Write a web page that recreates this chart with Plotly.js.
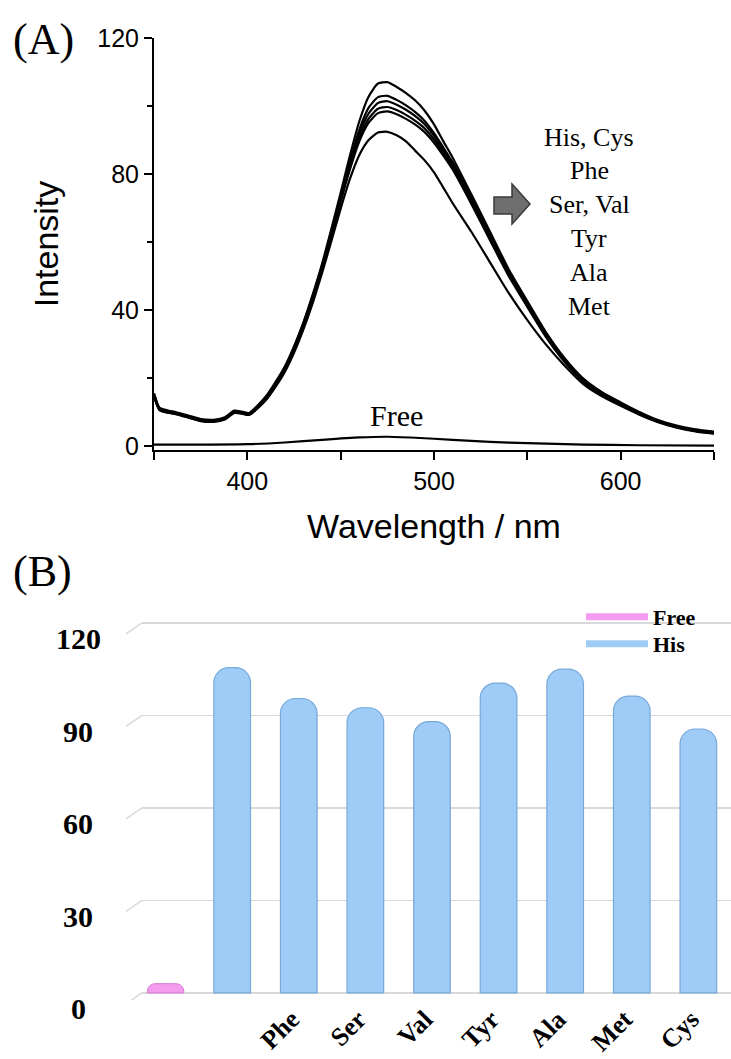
<!DOCTYPE html>
<html>
<head>
<meta charset="utf-8">
<script src="https://cdn.plot.ly/plotly-3.0.1.min.js"></script>
<style>html,body{margin:0;padding:0;background:#fff;}#chart{width:731px;height:1059px;}</style>
</head>
<body>
<div id="chart"></div>
<script>
// ---------- Panel A data: emission spectra ----------
const wavelength = [350,353,357,362,368,375,382,388,393,397,401,405,410,415,420,425,430,435,440,445,
  450,455,460,465,470,475,480,485,490,495,500,505,510,520,530,540,550,560,570,580,590,600,610,620,630,640,650];
const hisCys = [15.5,11.2,10.5,9.9,9.0,7.9,7.7,8.4,10.4,10.1,9.7,11.6,14.6,18.7,23.3,29.3,36.3,44.5,53.5,63.8,
  74.5,85.5,95.5,102.8,106.6,107.0,105.6,103.8,101.6,98.6,94.6,89.6,84.8,74.0,63.0,52.0,42.6,33.4,25.8,19.8,15.8,12.8,10.0,7.6,6.0,4.9,4.2];
const phe = [15.3,11.0,10.3,9.7,8.8,7.7,7.5,8.2,10.2,9.9,9.5,11.4,14.3,18.4,23.0,29.0,36.0,44.0,53.0,63.0,
  73.5,83.8,93.0,99.5,102.6,103.0,101.8,100.2,98.2,95.6,92.0,87.8,83.4,73.0,62.2,51.4,42.0,33.0,25.4,19.5,15.5,12.5,9.8,7.4,5.8,4.7,4.0];
const serVal = [15.0,10.8,10.1,9.6,8.7,7.6,7.4,8.1,10.0,9.8,9.4,11.2,14.1,18.1,22.7,28.6,35.6,43.6,52.6,62.6,
  73.0,83.0,91.8,97.8,100.9,101.4,100.4,98.9,97.0,94.6,91.2,87.0,82.7,72.4,61.6,50.9,41.6,32.6,25.1,19.2,15.3,12.3,9.6,7.3,5.7,4.6,3.9];
const tyr = [14.8,10.7,10.0,9.5,8.6,7.5,7.3,8.0,9.9,9.7,9.3,11.0,13.9,17.9,22.4,28.3,35.2,43.2,52.2,62.0,
  72.4,82.2,90.6,96.3,99.2,99.7,98.8,97.4,95.6,93.4,90.2,86.2,82.0,71.8,61.0,50.4,41.2,32.3,24.9,19.0,15.1,12.1,9.5,7.2,5.6,4.5,3.8];
const ala = [14.6,10.6,9.9,9.4,8.5,7.4,7.2,7.9,9.8,9.6,9.2,10.9,13.7,17.6,22.1,27.9,34.8,42.8,51.7,61.4,
  71.8,81.4,89.6,95.1,97.9,98.4,97.6,96.2,94.5,92.3,89.2,85.4,81.3,71.2,60.5,50.0,40.9,32.0,24.7,18.9,15.0,12.0,9.4,7.1,5.5,4.4,3.7];
const met = [14.5,10.5,9.8,9.3,8.4,7.3,7.1,7.8,9.7,9.5,9.1,10.8,13.5,17.3,21.7,27.4,34.2,42.0,50.8,60.2,
  69.8,78.6,85.6,90.0,92.2,92.4,91.4,89.6,86.8,84.0,80.5,76.0,71.4,63.0,54.0,45.0,37.0,29.8,23.6,18.2,14.6,11.8,9.2,7.0,5.4,4.3,3.6];
const freeWavelength = [350,380,400,420,440,460,475,490,510,530,550,580,610,650];
const freeIntensity = [0.4,0.4,0.5,1.0,1.8,2.5,2.7,2.4,1.8,1.2,0.8,0.4,0.2,0.1];
const spectraNames = ['His, Cys','Phe','Ser, Val','Tyr','Ala','Met'];
const groupLabels = ['His, Cys','Phe','Ser, Val','Tyr','Ala','Met'];

// ---------- Panel B data: bar chart ----------
const categories = ['Free','His','Phe','Ser','Val','Tyr','Ala','Met','Cys'];
const barValues = [3,105.5,95.5,92.5,88,100.5,105,96.3,85.6];
const categoryTickText = ['','','Phe','Ser','Val','Tyr','Ala','Met','Cys'];
const barTickVals = [0,30,60,90,120];
const barTickText = ['0','30','60','90','120'];
const legendNames = ['Free','His'];

// ---------- layout helpers ----------
const W = 731, H = 1059;
const px = x => x / W;
const py = y => 1 - y / H;
const SERIF = 'Liberation Serif, Times New Roman, serif';
const SANS = 'Liberation Sans, Arial, sans-serif';
const PINK = '#F49DF0', BLUE = '#9FCCF6';

const spectra = [hisCys, phe, serVal, tyr, ala, met];
const traces = spectra.map((s, i) => ({
  type: 'scatter', mode: 'lines', x: wavelength, y: s, name: spectraNames[i],
  xaxis: 'x', yaxis: 'y', showlegend: false,
  line: {color: 'black', width: 2.2, shape: 'spline', smoothing: 0.6}
}));
traces.push({
  type: 'scatter', mode: 'lines', x: freeWavelength, y: freeIntensity, name: 'Free',
  xaxis: 'x', yaxis: 'y', showlegend: false,
  line: {color: 'black', width: 2.2, shape: 'spline', smoothing: 0.6}
});

// bars
traces.push({
  type: 'bar', x: categories.slice(0, 1), y: barValues.slice(0, 1), name: 'Free',
  xaxis: 'x2', yaxis: 'y2', width: 0.55, showlegend: false,
  marker: {color: PINK, line: {color: '#D67AD3', width: 1}, cornerradius: 8}
});
traces.push({
  type: 'bar', x: categories.slice(1), y: barValues.slice(1), name: 'His',
  xaxis: 'x2', yaxis: 'y2', width: 0.55, showlegend: false,
  marker: {color: BLUE, line: {color: '#76A8DA', width: 1.2}, cornerradius: 15}
});
// legend entries (line swatches as in the reference), one legend box each
traces.push({type: 'scatter', mode: 'lines', x: [null], y: [null], name: legendNames[0],
  xaxis: 'x2', yaxis: 'y2', legend: 'legend', line: {color: PINK, width: 7}});
traces.push({type: 'scatter', mode: 'lines', x: [null], y: [null], name: legendNames[1],
  xaxis: 'x2', yaxis: 'y2', legend: 'legend2', line: {color: BLUE, width: 7}});

// annotations
const annotations = [];
annotations.push({text: '(A)', xref: 'paper', yref: 'paper', x: px(11), y: py(40),
  xanchor: 'left', yanchor: 'middle', showarrow: false, font: {family: SERIF, size: 44, color: 'black'}});
annotations.push({text: '(B)', xref: 'paper', yref: 'paper', x: px(11), y: py(571),
  xanchor: 'left', yanchor: 'middle', showarrow: false, font: {family: SERIF, size: 44, color: 'black'}});
groupLabels.forEach((t, i) => annotations.push({
  text: t, xref: 'paper', yref: 'paper', x: px(589), y: py(137 + i * 33.8),
  xanchor: 'center', yanchor: 'middle', showarrow: false, font: {family: SERIF, size: 26, color: 'black'}
}));
annotations.push({text: 'Free', xref: 'x', yref: 'y', x: 480, y: 9,
  xanchor: 'center', yanchor: 'middle', showarrow: false, font: {family: SERIF, size: 30, color: 'black'}});
barTickVals.forEach((v, i) => annotations.push({
  text: barTickText[i], xref: 'paper', yref: 'y2', x: px(78), y: v, yshift: -16,
  xanchor: 'center', yanchor: 'middle', showarrow: false,
  font: {family: SERIF, size: 30, color: 'black', weight: 'bold'}
}));

// shapes: block arrow + perspective stubs on gridlines
const arrowPts = [[494,197],[512,197],[512,184],[530,204],[512,224],[512,214],[494,214]];
const shapes = [{
  type: 'path', xref: 'paper', yref: 'paper',
  path: 'M' + arrowPts.map(p => px(p[0]) + ',' + py(p[1])).join('L') + 'Z',
  fillcolor: '#6F6F6F', line: {color: '#3A3A3A', width: 1.5}
}];
barTickVals.forEach(v => shapes.push({
  type: 'line', xref: 'paper', yref: 'y2', ysizemode: 'pixel', yanchor: v,
  x0: px(142), y0: 0, x1: px(126), y1: -11, line: {color: '#D9D9D9', width: 1.5}
}));

const axisFont = {family: SANS, size: 25, color: 'black'};
const legendStyle = (topPx) => ({
  x: px(581), y: py(topPx), xanchor: 'left', yanchor: 'top',
  bgcolor: 'rgba(0,0,0,0)', borderwidth: 0, itemwidth: 62, tracegroupgap: 0,
  font: {family: SERIF, size: 22, color: 'black', weight: 'bold'}
});
const layout = {
  width: W, height: H, margin: {l: 0, r: 0, t: 0, b: 0},
  paper_bgcolor: 'white', plot_bgcolor: 'rgba(0,0,0,0)',
  barmode: 'overlay', showlegend: true,
  xaxis: {
    domain: [px(154), px(714)], range: [350, 650], anchor: 'y',
    showline: true, linecolor: 'black', linewidth: 2, mirror: false,
    ticks: 'outside', ticklen: 8, tickwidth: 2, tickcolor: 'black',
    tick0: 0, dtick: 100,
    minor: {dtick: 50, ticks: 'outside', ticklen: 8, tickwidth: 2, tickcolor: 'black', showgrid: false},
    showgrid: false, zeroline: false, tickfont: axisFont, automargin: false,
    title: {text: 'Wavelength / nm', font: {family: SANS, size: 34, color: 'black'}, standoff: 20}
  },
  yaxis: {
    domain: [py(450), py(38)], range: [-1.2, 120], anchor: 'x',
    showline: true, linecolor: 'black', linewidth: 2,
    ticks: 'outside', ticklen: 8, tickwidth: 2, tickcolor: 'black',
    tick0: 0, dtick: 40,
    minor: {dtick: 20, ticks: 'outside', ticklen: 5, tickwidth: 2, tickcolor: 'black', showgrid: false},
    showgrid: false, zeroline: false, tickfont: axisFont, automargin: false,
    title: {text: 'Intensity', font: {family: SANS, size: 34, color: 'black'}, standoff: 28}
  },
  xaxis2: {
    domain: [px(142), 1], range: [-0.354, 8.49], anchor: 'y2', type: 'category',
    tickmode: 'array', tickvals: categories, ticktext: categoryTickText, tickangle: -45,
    tickfont: {family: SERIF, size: 26, color: 'black', weight: 'bold'},
    showline: false, showgrid: false, zeroline: false, ticks: '', automargin: false,
    ticklabelstandoff: -2, ticklabelshift: -7
  },
  yaxis2: {
    domain: [py(1000), py(616.8)], range: [-2.3, 122], anchor: 'x2',
    tickmode: 'array', tickvals: barTickVals, showticklabels: false,
    showgrid: true, gridcolor: '#D9D9D9', gridwidth: 1.5, zeroline: false, showline: false,
    automargin: false
  },
  legend: legendStyle(596),
  legend2: legendStyle(623),
  annotations: annotations,
  shapes: shapes
};

Plotly.newPlot('chart', traces, layout, {staticPlot: true, displayModeBar: false});
</script>
</body>
</html>
